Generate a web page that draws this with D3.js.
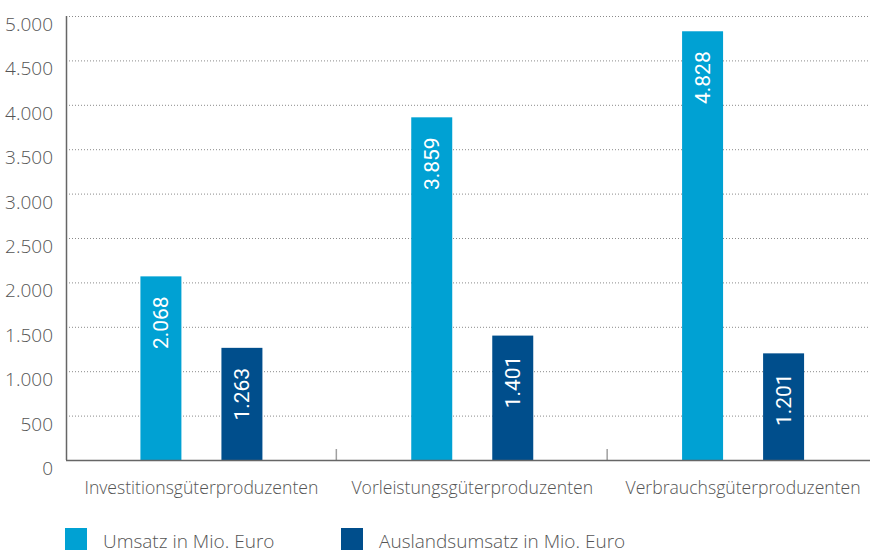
<!DOCTYPE html>
<html>
<head>
<meta charset="utf-8">
<script src="https://cdn.jsdelivr.net/npm/d3@7"></script>
<style>
  html, body { margin: 0; padding: 0; background: #fff; }
  svg { display: block; }
  .lbl { font-family: "Open Sans", "Noto Sans", sans-serif; font-weight: 300; fill: #555; }
  .val { font-family: Roboto, "Liberation Sans", sans-serif; fill: #fff; }
</style>
</head>
<body>
<svg id="chart" width="870" height="550"></svg>
<script>
// Umsatz nach Hauptgruppen (Mio. Euro)
const categories = ["Investitionsgüterproduzenten", "Vorleistungsgüterproduzenten", "Verbrauchsgüterproduzenten"];
const seriesNames = ["Umsatz in Mio. Euro", "Auslandsumsatz in Mio. Euro"];
const umsatz = [2068, 3859, 4828];
const auslandsumsatz = [1263, 1401, 1201];
const yTicks = [0, 500, 1000, 1500, 2000, 2500, 3000, 3500, 4000, 4500, 5000];
const colors = ["#00a1d3", "#004e8c"];

const fmt = v => d3.format(",")(v).replace(/,/g, ".");

const svg = d3.select("#chart");
const plotLeft = 66, plotRight = 878.5, plotTop = 16, plotBottom = 460;

const x0 = d3.scaleBand().domain(categories).range([plotLeft, plotRight]).padding(0);
const x1 = d3.scaleBand().domain(seriesNames).range([-61, 61]).paddingInner(0.494);
const y = d3.scaleLinear().domain([0, 5000]).range([plotBottom, plotTop]);

// dotted gridlines
svg.append("g")
  .selectAll("line")
  .data(yTicks.filter(d => d > 0))
  .join("line")
  .attr("x1", plotLeft).attr("x2", 870)
  .attr("y1", d => y(d) + 0.5).attr("y2", d => y(d) + 0.5)
  .attr("stroke", "#8a8a8a")
  .attr("stroke-width", 1)
  .attr("stroke-dasharray", "1,2");

// y tick labels, set slightly below their gridlines
svg.append("g")
  .selectAll("text")
  .data(yTicks)
  .join("text")
  .attr("class", "lbl")
  .attr("x", 53)
  .attr("y", d => y(d) + 15)
  .attr("text-anchor", "end")
  .attr("font-size", 19)
  .text(fmt);

// category separators
svg.append("g")
  .selectAll("line")
  .data(categories.slice(1))
  .join("line")
  .attr("x1", d => x0(d) - 0.5).attr("x2", d => x0(d) - 0.5)
  .attr("y1", 449).attr("y2", plotBottom)
  .attr("stroke", "#a0a0a0")
  .attr("stroke-width", 1.5);

// bars
const rows = categories.map((c, i) => ({ cat: c, vals: [umsatz[i], auslandsumsatz[i]] }));
const groups = svg.append("g")
  .selectAll("g")
  .data(rows)
  .join("g")
  .attr("transform", d => `translate(${x0(d.cat) + x0.bandwidth() / 2},0)`);

const bars = groups.selectAll("g")
  .data(d => d.vals.map((v, j) => ({ name: seriesNames[j], v, j })))
  .join("g");

bars.append("rect")
  .attr("x", d => x1(d.name))
  .attr("width", x1.bandwidth())
  .attr("y", d => y(d.v))
  .attr("height", d => plotBottom - y(d.v))
  .attr("fill", d => colors[d.j]);

bars.append("text")
  .attr("class", "val")
  .attr("font-size", 21)
  .attr("text-anchor", "end")
  .attr("transform", d => `translate(${x1(d.name) + x1.bandwidth() / 2 + 7.5},${y(d.v) + 20}) rotate(-90)`)
  .text(d => fmt(d.v));

// axis lines
svg.append("line")
  .attr("x1", plotLeft + 0.5).attr("x2", plotLeft + 0.5)
  .attr("y1", plotTop).attr("y2", plotBottom)
  .attr("stroke", "#666").attr("stroke-width", 1.5);
svg.append("line")
  .attr("x1", plotLeft).attr("x2", 870)
  .attr("y1", plotBottom + 0.5).attr("y2", plotBottom + 0.5)
  .attr("stroke", "#666").attr("stroke-width", 1.5);

// category labels
svg.append("g")
  .selectAll("text")
  .data(categories)
  .join("text")
  .attr("class", "lbl")
  .attr("x", d => x0(d) + x0.bandwidth() / 2)
  .attr("y", 494)
  .attr("text-anchor", "middle")
  .attr("font-size", 17.6)
  .text(d => d);

// legend
const legendX = [65, 341];
const leg = svg.append("g")
  .selectAll("g")
  .data(seriesNames)
  .join("g")
  .attr("transform", (d, i) => `translate(${legendX[i]},528)`);
leg.append("rect")
  .attr("width", 22).attr("height", 22)
  .attr("fill", (d, i) => colors[i]);
leg.append("text")
  .attr("class", "lbl")
  .attr("x", 38)
  .attr("y", 20)
  .attr("font-size", 19)
  .text(d => d);
</script>
</body>
</html>
